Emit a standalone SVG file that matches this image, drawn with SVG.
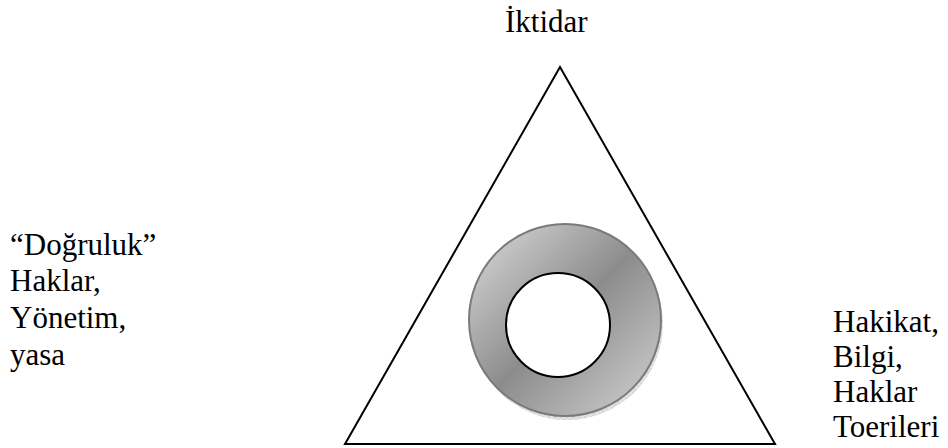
<svg xmlns="http://www.w3.org/2000/svg" width="948" height="448" viewBox="0 0 948 448">
<style>
  .t { font-family: "Liberation Serif", "Times New Roman", serif; font-size: 31px; fill: #000; }
</style>
<defs>
  <linearGradient id="ringGrad" x1="0" y1="0" x2="1" y2="1">
    <stop offset="0" stop-color="#dcdcdc"/>
    <stop offset="0.5" stop-color="#8c8c8c"/>
    <stop offset="1" stop-color="#d4d4d4"/>
  </linearGradient>
  <pattern id="hatch" width="6" height="6" patternUnits="userSpaceOnUse">
    <rect width="6" height="6" fill="#e4e4e4"/>
    <path d="M0 6 L6 0 M0 0 L6 6" stroke="#c4c4c4" stroke-width="0.6"/>
  </pattern>
</defs>
<rect width="948" height="448" fill="#fff"/>
<g id="triangle">
  <polygon points="560,67 345,444 775,444" fill="none" stroke="#000" stroke-width="2"/>
</g>
<g id="ring">
  <circle cx="567" cy="324" r="96" fill="url(#hatch)"/>
  <circle cx="565" cy="320" r="96" fill="url(#ringGrad)" stroke="#7a7a7a" stroke-width="2"/>
  <circle cx="558" cy="325" r="52" fill="#fff" stroke="#000" stroke-width="2"/>
</g>
<g id="top-label">
  <text class="t" x="505" y="32">İktidar</text>
</g>
<g id="left-label">
  <text class="t" x="10" y="255">“Doğruluk”</text>
  <text class="t" x="10" y="291">Haklar,</text>
  <text class="t" x="10" y="328">Yönetim,</text>
  <text class="t" x="10" y="365">yasa</text>
</g>
<g id="right-label">
  <text class="t" x="833" y="332">Hakikat,</text>
  <text class="t" x="833" y="367">Bilgi,</text>
  <text class="t" x="833" y="402">Haklar</text>
  <text class="t" x="833" y="437">Toerileri</text>
</g>
</svg>
